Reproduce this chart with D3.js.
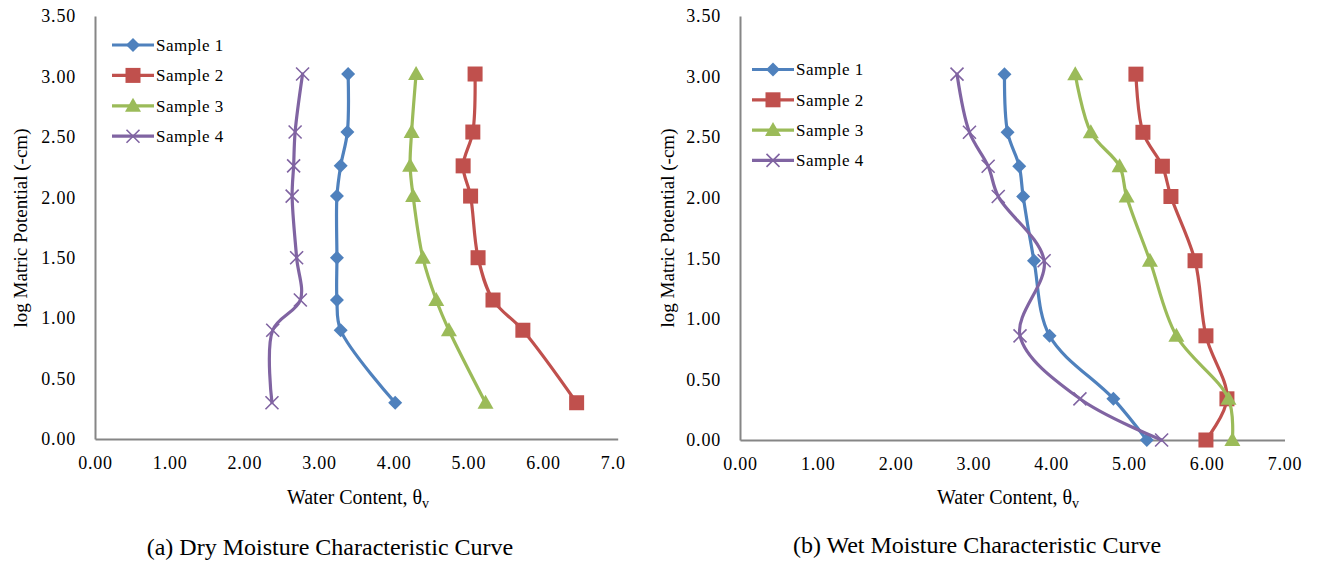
<!DOCTYPE html>
<html>
<head>
<meta charset="utf-8">
<script src="https://cdn.jsdelivr.net/npm/d3@7"></script>
<style>
  html, body { margin: 0; padding: 0; background: #fff; }
  svg { display: block; }
  text { font-family: "Liberation Serif", "Times New Roman", serif; fill: #000; }
</style>
</head>
<body>
<svg id="chart" width="1319" height="568"></svg>
<script>
// ---------- DATA ----------
const seriesNames = ["Sample 1", "Sample 2", "Sample 3", "Sample 4"];

// (a) Dry moisture characteristic curve
const dryLogPotential = [3.02, 2.54, 2.26, 2.01, 1.50, 1.15, 0.90, 0.30];
const drySample1 = [3.39, 3.38, 3.29, 3.24, 3.24, 3.24, 3.29, 4.02];
const drySample2 = [5.09, 5.06, 4.93, 5.03, 5.13, 5.33, 5.73, 6.45];
const drySample3 = [4.30, 4.24, 4.22, 4.26, 4.39, 4.57, 4.74, 5.23];
const drySample4 = [2.78, 2.68, 2.66, 2.64, 2.70, 2.75, 2.38, 2.37];

// (b) Wet moisture characteristic curve
const wetLogPotential = [3.02, 2.54, 2.26, 2.01, 1.48, 0.86, 0.34, 0.00];
const wetSample1 = [3.40, 3.44, 3.59, 3.64, 3.78, 3.98, 4.80, 5.23];
const wetSample2 = [5.09, 5.18, 5.43, 5.54, 5.85, 5.99, 6.26, 5.99];
const wetSample3 = [4.31, 4.51, 4.88, 4.97, 5.27, 5.61, 6.28, 6.33];
const wetSample4 = [2.79, 2.95, 3.19, 3.32, 3.91, 3.60, 4.37, 5.42];

const yTickValues = [0, 0.5, 1, 1.5, 2, 2.5, 3, 3.5];
const yTickLabels = ["0.00", "0.50", "1.00", "1.50", "2.00", "2.50", "3.00", "3.50"];
const xTickValues = [0, 1, 2, 3, 4, 5, 6, 7];
const xTickLabelsDry = ["0.00", "1.00", "2.00", "3.00", "4.00", "5.00", "6.00", "7.0"];
const xTickLabelsWet = ["0.00", "1.00", "2.00", "3.00", "4.00", "5.00", "6.00", "7.00"];

const yAxisTitle = "log Matric Potential (-cm)";
const xAxisTitle = "Water Content, θ";
const xAxisTitleSub = "v";
const captionDry = "(a) Dry Moisture Characteristic Curve";
const captionWet = "(b) Wet Moisture Characteristic Curve";

// ---------- STYLE ----------
const colors = ["#4F81BD", "#C0504D", "#9BBB59", "#8064A2"];
const markers = ["diamond", "square", "triangle", "x"];
const axisColor = "#868686";

const svg = d3.select("#chart");

function drawMarker(g, type, color, x, y) {
  if (type === "x") {
    const s = 6.5;
    g.append("path")
      .attr("d", `M${x - s},${y - s}L${x + s},${y + s}M${x - s},${y + s}L${x + s},${y - s}`)
      .attr("stroke", color).attr("stroke-width", 1.6).attr("fill", "none");
  } else if (type === "diamond") {
    const s = 7;
    g.append("path")
      .attr("d", `M${x},${y - s}L${x + s},${y}L${x},${y + s}L${x - s},${y}Z`)
      .attr("fill", color);
  } else if (type === "square") {
    const s = 7.5;
    g.append("rect").attr("x", x - s).attr("y", y - s).attr("width", 2 * s).attr("height", 2 * s)
      .attr("fill", color);
  } else {
    const s = 8;
    g.append("path")
      .attr("d", `M${x},${y - s}L${x + s},${y + s * 0.75}L${x - s},${y + s * 0.75}Z`)
      .attr("fill", color);
  }
}

function drawPanel(cfg) {
  const g = svg.append("g");
  const x = d3.scaleLinear().domain([0, 7]).range([cfg.x0, cfg.x1]);
  const y = d3.scaleLinear().domain([0, 3.5]).range([cfg.y0, cfg.y1]);

  // axes (lines only, no tick marks)
  const yAxis = d3.axisLeft(y).tickValues(yTickValues).tickSize(0).tickPadding(19)
    .tickFormat((d, i) => yTickLabels[i]);
  const yg = g.append("g").attr("transform", `translate(${cfg.x0},0)`).call(yAxis);
  yg.select(".domain").attr("stroke", axisColor).attr("stroke-width", 2);
  yg.selectAll("text").style("font-family", "Liberation Serif").style("font-size", "18px")
    .style("letter-spacing", "0.8px").attr("fill", "#000");

  const xAxis = d3.axisBottom(x).tickValues(xTickValues).tickSize(0).tickPadding(17)
    .tickFormat((d, i) => cfg.xLabels[i]);
  const xg = g.append("g").attr("transform", `translate(0,${cfg.y0})`).call(xAxis);
  xg.select(".domain").attr("stroke", axisColor).attr("stroke-width", 2);
  xg.selectAll("text").style("font-family", "Liberation Serif").style("font-size", "18px")
    .style("letter-spacing", "0.8px").attr("fill", "#000");
  // align labels so truncated "7.0" keeps the same left edge as a full label
  const half = xg.select("text").node().getComputedTextLength() / 2;
  xg.selectAll("text").attr("text-anchor", "start").attr("x", -half);

  // series
  const line = d3.line()
    .x(d => x(d[0])).y(d => y(d[1]))
    .curve(d3.curveCatmullRom.alpha(0.5));
  cfg.series.forEach((vals, si) => {
    const pts = vals.map((v, i) => [v, cfg.yVals[i]]);
    g.append("path").datum(pts).attr("d", line)
      .attr("fill", "none").attr("stroke", colors[si]).attr("stroke-width", 3.2)
      .attr("stroke-linejoin", "round").attr("stroke-linecap", "round");
    pts.forEach(p => drawMarker(g, markers[si], colors[si], x(p[0]), y(p[1])));
  });

  // legend
  seriesNames.forEach((name, i) => {
    const ly = cfg.legY + i * cfg.legStep;
    g.append("line").attr("x1", cfg.legX).attr("x2", cfg.legX + 42)
      .attr("y1", ly).attr("y2", ly).attr("stroke", colors[i]).attr("stroke-width", 3.2);
    drawMarker(g, markers[i], colors[i], cfg.legX + 21, ly);
    g.append("text").attr("x", cfg.legX + 44).attr("y", ly).attr("dy", "0.35em")
      .style("font-size", "17px").style("letter-spacing", "0.5px").text(name);
  });

  // axis titles
  g.append("text")
    .attr("transform", `translate(${cfg.yTitleX},${cfg.yTitleY}) rotate(-90)`)
    .attr("text-anchor", "middle").attr("dy", "0.35em")
    .style("font-size", "19px").text(yAxisTitle);

  const xt = g.append("text").attr("x", cfg.xTitleX).attr("y", cfg.xTitleY)
    .attr("text-anchor", "middle").attr("dy", "0.35em").style("font-size", "20px");
  xt.append("tspan").text(xAxisTitle);
  xt.append("tspan").attr("dy", "4").style("font-size", "14px").text(xAxisTitleSub);

  g.append("text").attr("x", cfg.capX).attr("y", cfg.capY).attr("text-anchor", "middle")
    .attr("dy", "0.35em").style("font-size", "24px").text(cfg.caption);
}

drawPanel({
  x0: 95, x1: 617.7, y0: 439, y1: 16,
  xLabels: xTickLabelsDry,
  yVals: dryLogPotential,
  series: [drySample1, drySample2, drySample3, drySample4],
  legX: 112, legY: 45, legStep: 30.4,
  yTitleX: 20, yTitleY: 228,
  xTitleX: 358, xTitleY: 497,
  capX: 330, capY: 547, caption: captionDry
});

drawPanel({
  x0: 740, x1: 1284.5, y0: 440, y1: 16,
  xLabels: xTickLabelsWet,
  yVals: wetLogPotential,
  series: [wetSample1, wetSample2, wetSample3, wetSample4],
  legX: 752, legY: 69.5, legStep: 30.3,
  yTitleX: 667, yTitleY: 228,
  xTitleX: 1008, xTitleY: 497,
  capX: 977, capY: 545, caption: captionWet
});
</script>
</body>
</html>
